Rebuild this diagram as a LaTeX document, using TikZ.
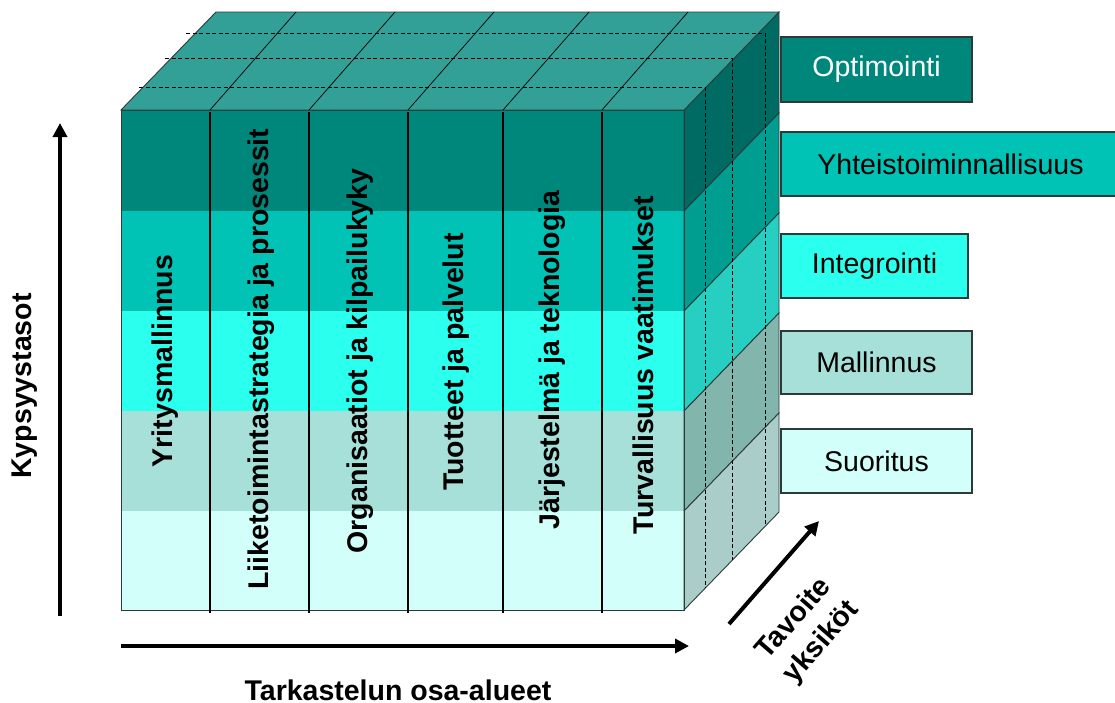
\documentclass[tikz,border=0pt]{standalone}
\usepackage{fontspec}
\setmainfont{Liberation Sans}
\usetikzlibrary{arrows.meta}
\definecolor{rowA}{HTML}{00877C}
\definecolor{rowB}{HTML}{00C3B5}
\definecolor{rowC}{HTML}{2BFFEE}
\definecolor{rowD}{HTML}{A6E0D9}
\definecolor{rowE}{HTML}{D3FFFB}
\definecolor{sideA}{HTML}{006B62}
\definecolor{sideB}{HTML}{009E91}
\definecolor{sideC}{HTML}{26CFC1}
\definecolor{sideD}{HTML}{82B6AD}
\definecolor{sideE}{HTML}{AACDCA}
\definecolor{topface}{HTML}{33A098}
\definecolor{edgecol}{HTML}{2B3B3A}
\begin{document}
\begin{tikzpicture}[x=1pt,y=-1pt,
  cubeedge/.style={draw=edgecol,line width=0.9pt},
  collabel/.style={font=\bfseries\fontsize{28.5}{34}\selectfont,inner sep=0pt,rotate=90},
  axislabel/.style={font=\bfseries\fontsize{28.5}{36}\selectfont,inner sep=0pt,align=center},
  lvlbox/.style={draw=edgecol,line width=1.1pt,inner sep=0pt,font=\fontsize{28.5}{34}\selectfont},
  axisarrow/.style={line width=4pt,-{Triangle[length=14pt,width=14pt]}},
  hidden/.style={dashed,dash pattern=on 4pt off 2.5pt,line width=0.7pt,black}]
\useasboundingbox (0,0) rectangle (1115,702);

% front rows and side bands
\foreach \ya/\yb/\cf/\cs in {110/211/rowA/sideA,211/311/rowB/sideB,311/411/rowC/sideC,411/511/rowD/sideD,511/610/rowE/sideE}{
  \fill[\cf] (121,\ya) rectangle (684,\yb);
  \draw[cubeedge] (121,\yb) -- (684,\yb);
  \filldraw[fill=\cs,cubeedge] (684,\ya) -- (779,\ya-98) -- (779,\yb-98) -- (684,\yb) -- cycle;
}
\draw[cubeedge] (121,110) rectangle (684,610);

% top face
\filldraw[fill=topface,cubeedge] (121,110) -- (216,12) -- (779,12) -- (684,110) -- cycle;
\foreach \xc in {210,309,408,503,602}{
  \draw[line width=0.7pt,black] (\xc,110) -- (\xc+86,12);
}

% hidden planes
\draw[hidden] (186,33) -- (765,33) -- (765,526);
\draw[hidden] (165,58) -- (732,58) -- (732,560);
\draw[hidden] (139,87) -- (705,87) -- (705,588);

% column lines
\foreach \xc/\lw in {210/1.8,309/1.2,408/1.2,503/1.8,602/1.2}{
  \draw[line width=\lw pt,black] (\xc,112) -- (\xc,613);
}

% column labels
\node[collabel] (c1) at (165.5,361) {Yritysmallinnus};
\node[collabel] (c2) at (261,359) {Liiketoimintastrategia ja prosessit};
\node[collabel] (c3) at (360,361) {Organisaatiot ja kilpailukyky};
\node[collabel] (c4) at (456,362) {Tuotteet ja palvelut};
\node[collabel] (c5) at (552,360) {Järjestelmä ja teknologia};
\node[collabel] (c6) at (643,365) {Turvallisuus vaatimukset};

% level boxes
\node[lvlbox,fill=rowA,text=white,minimum width=191pt,minimum height=65pt] (l5) at (876.5,69.5) {Optimointi};
\node[lvlbox,fill=rowB,minimum width=339pt,minimum height=64pt] (l4) at (950.5,164) {Yhteistoiminnallisuus};
\node[lvlbox,fill=rowC,minimum width=187pt,minimum height=64pt] (l3) at (874.5,266) {Integrointi};
\node[lvlbox,fill=rowD,minimum width=191pt,minimum height=63pt] (l2) at (876.5,362.5) {Mallinnus};
\node[lvlbox,fill=rowE,minimum width=191pt,minimum height=64pt] (l1) at (876.5,461) {Suoritus};

% axes
\coordinate (ky0) at (60,616);
\coordinate (ky1) at (60,123);
\draw[axisarrow] (ky0) -- (ky1);
\node[axislabel,rotate=90] (kyl) at (25,386) {Kypsyystasot};

\coordinate (ta0) at (121,646);
\coordinate (ta1) at (689,646);
\draw[axisarrow] (ta0) -- (ta1);
\node[axislabel] (tal) at (398,690) {Tarkastelun osa-alueet};

\coordinate (tv0) at (729,624);
\coordinate (tv1) at (819,521);
\draw[axisarrow] (tv0) -- (tv1);
\node[axislabel,rotate=49] (tvl) at (808,631) {Tavoite\\yksiköt};
\end{tikzpicture}
\end{document}
